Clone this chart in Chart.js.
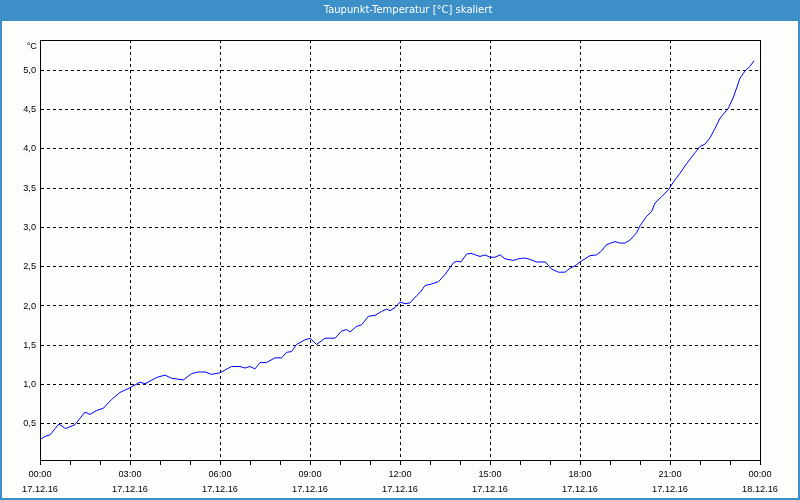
<!DOCTYPE html>
<html><head><meta charset="utf-8">
<script src="https://cdn.jsdelivr.net/npm/chart.js"></script>
<style>html,body{margin:0;padding:0;background:#fcfefc;}canvas{display:block;}</style>
</head><body>
<canvas id="c" width="800" height="500"></canvas>
<script>
const TITLE = 'Taupunkt-Temperatur [°C] skaliert';
const UNIT = '°C';
// time in minutes since 17.12.16 00:00
const minutes = [0,10,20,38,51,70,90,100,113,127,143,160,180,200,210,233,250,263,287,303,317,330,343,360,383,400,410,420,430,440,453,470,483,493,503,513,530,540,553,570,590,603,613,620,633,643,657,670,683,693,700,710,720,730,740,753,760,770,783,797,810,827,833,842,853,862,880,890,900,910,920,930,947,957,967,977,993,1011,1023,1037,1050,1060,1070,1080,1090,1100,1113,1123,1133,1150,1160,1170,1180,1193,1200,1213,1223,1230,1243,1257,1267,1280,1293,1310,1320,1330,1340,1350,1360,1377,1387,1400,1410,1420,1428];
const values = [0.30,0.34,0.36,0.50,0.44,0.49,0.65,0.62,0.67,0.70,0.81,0.90,0.96,1.03,1.01,1.09,1.12,1.08,1.06,1.14,1.16,1.16,1.13,1.15,1.23,1.23,1.21,1.23,1.20,1.28,1.28,1.34,1.34,1.41,1.42,1.51,1.57,1.59,1.51,1.59,1.59,1.68,1.70,1.67,1.74,1.76,1.87,1.88,1.93,1.96,1.94,1.98,2.05,2.03,2.04,2.13,2.17,2.26,2.28,2.31,2.40,2.55,2.57,2.56,2.66,2.67,2.63,2.65,2.62,2.62,2.65,2.60,2.58,2.60,2.61,2.60,2.56,2.56,2.47,2.43,2.43,2.48,2.51,2.56,2.60,2.64,2.65,2.70,2.78,2.82,2.80,2.80,2.84,2.93,3.02,3.14,3.20,3.31,3.39,3.48,3.58,3.69,3.81,3.95,4.03,4.06,4.14,4.26,4.39,4.52,4.66,4.90,4.99,5.05,5.12];
const yTicks = [0.5,1.0,1.5,2.0,2.5,3.0,3.5,4.0,4.5,5.0];
const xTimeLabels = ['00:00','03:00','06:00','09:00','12:00','15:00','18:00','21:00','00:00'];
const xDateLabels = ['17.12.16','17.12.16','17.12.16','17.12.16','17.12.16','17.12.16','17.12.16','17.12.16','18.12.16'];
const X_MIN = 0, X_MAX = 1440, X_TICK_STEP = 60, X_LABEL_STEP = 180;
const Y_MIN = 0.04, Y_MAX = 5.385;

const BLUE = '#3c8fc7';
const TICK_FONT = {family: "'Liberation Sans', Arial, sans-serif", size: 9.2, lineHeight: 15/9.2};

const framePlugin = {
  id: 'frame',
  beforeDraw(chart) {
    const ctx = chart.ctx;
    ctx.save();
    ctx.fillStyle = '#fcfefc';
    ctx.fillRect(0, 0, chart.width, chart.height);
    ctx.fillStyle = BLUE;
    ctx.fillRect(0, 0, chart.width, 21);
    ctx.fillRect(0, 0, 2, chart.height);
    ctx.fillRect(chart.width - 2, 0, 2, chart.height);
    ctx.fillRect(0, chart.height - 2, chart.width, 2);
    ctx.fillStyle = '#ffffff';
    ctx.font = "10px 'DejaVu Sans', sans-serif";
    ctx.textAlign = 'center';
    ctx.textBaseline = 'alphabetic';
    ctx.fillText(TITLE, 408, 13);
    ctx.restore();
  },
  afterDraw(chart) {
    const {ctx, chartArea: a} = chart;
    ctx.save();
    ctx.strokeStyle = '#000';
    ctx.lineWidth = 1;
    ctx.strokeRect(Math.round(a.left) + 0.5, Math.round(a.top) + 0.5, Math.round(a.right - a.left), Math.round(a.bottom - a.top));
    ctx.fillStyle = '#000';
    ctx.font = "9.2px 'Liberation Sans', Arial, sans-serif";
    ctx.textAlign = 'right';
    ctx.textBaseline = 'alphabetic';
    ctx.fillText(UNIT, 37, 49);
    ctx.restore();
  }
};

new Chart(document.getElementById('c'), {
  type: 'line',
  data: {
    datasets: [{
      data: minutes.map((m, i) => ({x: m, y: values[i]})),
      borderColor: '#0000ff',
      borderWidth: 1,
      pointRadius: 0,
      tension: 0,
      fill: false
    }]
  },
  options: {
    responsive: false,
    animation: false,
    devicePixelRatio: 1,
    layout: {padding: {top: 40, right: 40, left: 0, bottom: 0}},
    plugins: {legend: {display: false}, tooltip: {enabled: false}, title: {display: false}},
    scales: {
      x: {
        type: 'linear',
        min: X_MIN, max: X_MAX,
        afterBuildTicks(s) {
          const t = [];
          for (let v = X_MIN; v <= X_MAX; v += X_TICK_STEP) t.push({value: v});
          s.ticks = t;
        },
        afterFit(s) { s.height = 40; },
        grid: {
          color: c => (c.tick && c.tick.value % X_LABEL_STEP === 0 && c.tick.value !== X_MIN && c.tick.value !== X_MAX) ? '#000' : 'rgba(0,0,0,0)',
          tickColor: '#000',
          tickLength: 5,
          lineWidth: 1
        },
        border: {color: '#000', width: 1, dash: [3, 3]},
        ticks: {
          autoSkip: false, maxRotation: 0, minRotation: 0,
          padding: 1.5,
          color: '#000',
          font: TICK_FONT,
          callback: v => {
            if (v % X_LABEL_STEP !== 0) return '';
            const i = v / X_LABEL_STEP;
            return [xTimeLabels[i], xDateLabels[i]];
          }
        }
      },
      y: {
        type: 'linear',
        min: Y_MIN, max: Y_MAX,
        afterBuildTicks(s) { s.ticks = yTicks.map(v => ({value: v})); },
        afterFit(s) { s.width = 40; },
        grid: {color: '#000', drawTicks: false, lineWidth: 1},
        border: {color: '#000', width: 1, dash: [3, 3]},
        ticks: {
          padding: 4,
          color: '#000',
          font: {family: "'Liberation Sans', Arial, sans-serif", size: 9.2},
          callback: v => v.toFixed(1).replace('.', ',')
        }
      }
    }
  },
  plugins: [framePlugin]
});
</script>
</body></html>
